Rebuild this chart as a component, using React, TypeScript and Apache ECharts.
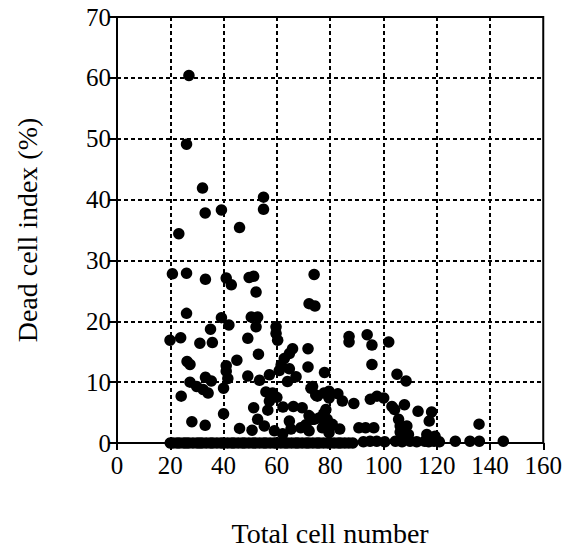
import React, { useEffect, useRef } from "react";
import * as echarts from "echarts";

// Total cell number (x) and dead cell index % (y)
const pointsAboveZero: [number, number][] = [
  [27.0, 60.4], [26.1, 49.1], [32.1, 41.9], [33.1, 37.8], [39.2, 38.3], [55.0, 40.4], [55.0, 38.4], [46.0, 35.4], [23.2, 34.4],
  [20.8, 27.8], [26.1, 27.9], [33.2, 26.9], [41.0, 27.1], [42.9, 26.0], [49.6, 27.2], [51.3, 27.4], [52.2, 24.8], [74.0, 27.7],
  [72.1, 22.9], [74.3, 22.5],
  [26.1, 21.3], [39.2, 20.6], [42.0, 19.4], [50.4, 20.7], [52.8, 20.7], [52.2, 19.1], [59.7, 19.1], [59.7, 18.0], [60.3, 16.9],
  [35.1, 18.7], [19.9, 16.9], [23.9, 17.3], [31.1, 16.4], [35.8, 16.5], [49.1, 17.2],
  [53.1, 14.6], [26.3, 13.4], [27.4, 12.9], [45.0, 13.6], [41.0, 12.7],
  [65.9, 15.5], [64.7, 14.7], [62.8, 13.9], [61.6, 12.8], [71.7, 15.5], [71.7, 12.5], [64.7, 12.2], [60.9, 11.9], [57.2, 11.2],
  [41.0, 11.8], [41.6, 10.6], [40.0, 9.0],
  [27.4, 10.0], [29.9, 9.3], [32.3, 8.8], [34.2, 8.2], [33.2, 10.8], [35.4, 10.2],
  [24.1, 7.7], [49.1, 11.0], [53.5, 10.3], [55.9, 8.4], [58.4, 8.2], [57.2, 6.9], [60.0, 7.5], [56.6, 5.4], [51.3, 5.8],
  [40.0, 4.8], [28.1, 3.5], [33.1, 2.9], [46.0, 2.4], [50.7, 2.1], [52.8, 3.9], [59.1, 2.0], [62.3, 5.9], [66.2, 6.0],
  [67.2, 10.9], [64.0, 10.1], [72.8, 9.0], [75.2, 7.7], [77.9, 11.6], [69.5, 5.8],
  [72.1, 4.5], [70.9, 3.0], [77.1, 4.4], [77.1, 2.5], [64.7, 3.6], [65.3, 2.3], [62.2, 1.5], [55.3, 2.8], [69.0, 2.5],
  [72.1, 2.0], [74.0, 3.9], [73.4, 3.9], [75.9, 4.1], [77.7, 4.9], [78.4, 5.5], [78.9, 3.9], [80.2, 2.8], [83.6, 2.3],
  [73.4, 9.3], [74.6, 7.9], [77.7, 8.2], [79.6, 8.5], [82.9, 8.1], [79.6, 7.4], [84.6, 6.9], [88.9, 6.5],
  [87.1, 17.5], [87.1, 16.6], [93.9, 17.8], [95.7, 16.1], [102.0, 16.6], [95.7, 12.9], [105.1, 11.3], [108.5, 10.2],
  [95.1, 7.2], [97.6, 7.7], [100.1, 7.4], [103.2, 6.0], [104.2, 5.5], [107.9, 6.3], [113.0, 5.2], [118.1, 5.1], [117.2, 3.6],
  [105.7, 3.9], [106.3, 2.8], [108.8, 2.8], [108.8, 1.4], [106.3, 1.8], [116.3, 1.4], [119.4, 1.1], [109.4, 1.4],
  [90.8, 2.5], [93.3, 2.5], [96.4, 2.5], [79.6, 1.7], [80.8, 3.1], [135.9, 3.1],
];

const zeroRowX: number[] = [
  20, 21, 22.5, 23.5, 25, 26, 27, 28.5, 30, 31, 32, 33.5, 35, 36, 37.5, 39, 40, 41.5, 43, 44, 45.5, 47, 48, 49.5,
  51, 52, 53.5, 55, 56, 57.5, 59, 60, 61.5, 63, 64, 65.5, 67, 68, 69.5, 71, 72, 73.5, 75, 76, 77.5, 79, 80, 81.5,
  83, 84, 85.5, 87, 88.5, 92.5, 95, 97.5, 100.5, 104.5, 107, 110, 112.5, 115.5, 117, 119, 121, 127, 132.5, 136, 145,
];
const zeroRowY: number[] = [
  0, 0, 0, 0, 0, 0, 0, 0, 0, 0, 0, 0, 0, 0, 0, 0, 0, 0, 0, 0, 0, 0, 0, 0,
  0, 0, 0, 0, 0, 0, 0, 0, 0, 0, 0, 0, 0, 0, 0, 0, 0, 0, 0, 0, 0, 0, 0, 0,
  0, 0, 0, 0, 0, 0.2, 0.3, 0.3, 0.2, 0.3, 0.2, 0.3, 0.2, 0.3, 0.2, 0.3, 0.2, 0.3, 0.3, 0.3, 0.3,
];

const xTicks = [0, 20, 40, 60, 80, 100, 120, 140, 160];
const yTicks = [0, 10, 20, 30, 40, 50, 60, 70];

const FONT = "Liberation Serif";

export default function App() {
  const ref = useRef<HTMLDivElement>(null);
  useEffect(() => {
    document.body.style.margin = "0";
    if (!ref.current) return;
    const chart = echarts.init(ref.current, undefined, { renderer: "svg" });
    const data = [
      ...pointsAboveZero,
      ...zeroRowX.map((x, i) => [x, zeroRowY[i]] as [number, number]),
    ];
    chart.setOption({
      animation: false,
      backgroundColor: "#fff",
      grid: {
        left: 117,
        right: 20,
        top: 17,
        bottom: 105,
        show: true,
        borderColor: "#000",
        borderWidth: 2,
        backgroundColor: "transparent",
      },
      xAxis: {
        type: "value",
        min: xTicks[0],
        max: xTicks[xTicks.length - 1],
        interval: 20,
        name: "Total cell number",
        nameLocation: "middle",
        nameGap: 76,
        nameTextStyle: { fontFamily: FONT, fontSize: 28, color: "#000" },
        axisLine: { show: true, lineStyle: { color: "#000", width: 2 } },
        axisTick: { show: true, length: 7, lineStyle: { color: "#000", width: 2 } },
        axisLabel: { fontFamily: FONT, fontSize: 25, color: "#000", margin: 10 },
        splitLine: {
          show: true,
          showMinLine: false,
          showMaxLine: false,
          lineStyle: { color: "#000", width: 2, type: [4, 3] },
        },
      },
      yAxis: {
        type: "value",
        min: yTicks[0],
        max: yTicks[yTicks.length - 1],
        interval: 10,
        name: "Dead cell index (%)",
        nameLocation: "middle",
        nameGap: 76,
        nameTextStyle: { fontFamily: FONT, fontSize: 28, color: "#000" },
        axisLine: { show: true, lineStyle: { color: "#000", width: 2 } },
        axisTick: { show: true, length: 8, lineStyle: { color: "#000", width: 2 } },
        axisLabel: { fontFamily: FONT, fontSize: 25, color: "#000", margin: 6 },
        splitLine: {
          show: true,
          showMinLine: false,
          showMaxLine: false,
          lineStyle: { color: "#000", width: 2, type: [4, 3] },
        },
      },
      series: [
        {
          type: "scatter",
          data,
          symbol: "circle",
          symbolSize: 11.5,
          itemStyle: { color: "#000", opacity: 1 },
          clip: false,
        },
      ],
    });
    return () => chart.dispose();
  }, []);
  return <div ref={ref} style={{ width: 565, height: 552 }} />;
}
